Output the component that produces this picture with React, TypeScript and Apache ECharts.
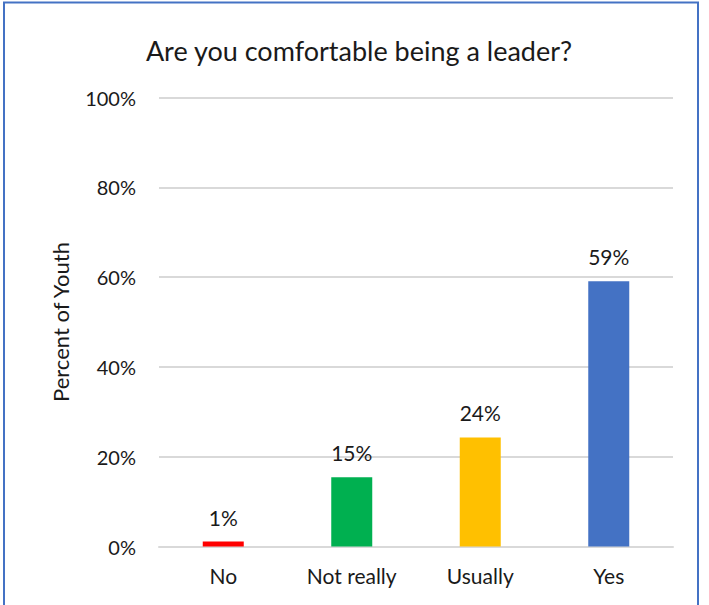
import React, { useEffect, useRef } from "react";
import * as echarts from "echarts";

const categories = ["No", "Not really", "Usually", "Yes"];
const values = [1.1, 15.4, 24.3, 59.1];
const colors = ["#FF0000", "#00B050", "#FFC000", "#4472C4"];
const yTicks = [0, 20, 40, 60, 80, 100];

export default function App() {
  const ref = useRef<HTMLDivElement>(null);
  useEffect(() => {
    if (!ref.current) return;
    const chart = echarts.init(ref.current, undefined, { renderer: "svg" });
    const font = "Lato, 'Open Sans', sans-serif";
    chart.setOption({
      animation: false,
      backgroundColor: "#ffffff",
      textStyle: { fontFamily: font },
      title: {
        text: "Are you comfortable being a leader?",
        left: 354,
        top: 32,
        textAlign: "center",
        textStyle: { fontFamily: font, fontSize: 27, fontWeight: "normal", color: "#1a1a1a" },
      },
      graphic: [
        {
          type: "rect",
          shape: { x: 4, y: 2.5, width: 694, height: 640 },
          style: { fill: "none", stroke: "#4472C4", lineWidth: 2 },
          silent: true,
        },
      ],
      grid: { left: 159, right: 36, top: 97.5, bottom: 58.5 },
      xAxis: {
        type: "category",
        data: categories,
        axisLine: { lineStyle: { color: "#d9d9d9", width: 2 } },
        axisTick: { show: false },
        axisLabel: { color: "#1a1a1a", fontSize: 21, margin: 18, fontFamily: font },
      },
      yAxis: {
        type: "value",
        min: yTicks[0],
        max: yTicks[yTicks.length - 1],
        interval: 20,
        name: "Percent of Youth",
        nameLocation: "middle",
        nameGap: 88,
        nameRotate: 90,
        nameTextStyle: { color: "#1a1a1a", fontSize: 22, fontFamily: font },
        axisLine: { show: false },
        axisTick: { show: false },
        splitLine: { lineStyle: { color: "#d9d9d9", width: 2 } },
        axisLabel: { color: "#1a1a1a", fontSize: 20, margin: 23, fontFamily: font, formatter: "{value}%" },
      },
      series: [
        {
          type: "bar",
          barWidth: 41,
          data: values.map((v, i) => ({ value: v, itemStyle: { color: colors[i] } })),
          label: {
            show: true,
            position: "top",
            distance: 14,
            color: "#1a1a1a",
            fontSize: 21,
            fontFamily: font,
            formatter: (p: any) => Math.round(p.value) + "%",
          },
        },
      ],
    });
    return () => chart.dispose();
  }, []);
  return (
    <div
      ref={ref}
      style={{ position: "fixed", left: 0, top: 0, width: 709, height: 605 }}
    />
  );
}
